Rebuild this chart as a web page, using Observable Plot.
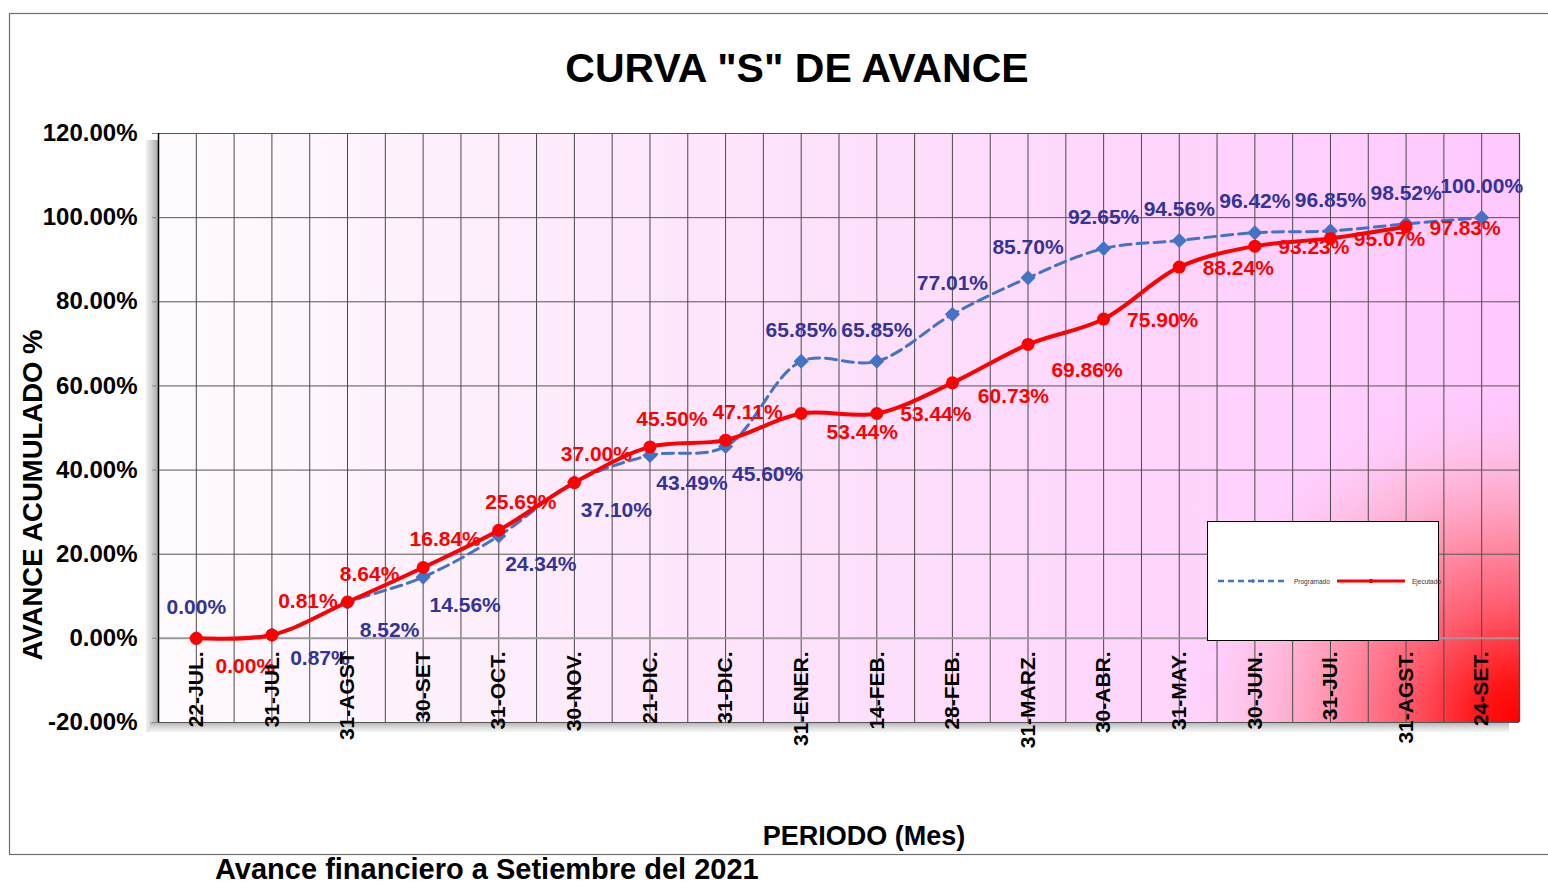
<!DOCTYPE html>
<html>
<head>
<meta charset="utf-8">
<script src="https://cdn.jsdelivr.net/npm/d3@7"></script>
<script src="https://cdn.jsdelivr.net/npm/@observablehq/plot@0.6"></script>
<style>
  body { margin: 0; background: #fff; }
  #chart { width: 1548px; height: 884px; }
</style>
</head>
<body>
<div id="chart"></div>
<script>
// ---- data ----
const periods = ["22-JUL.", "31-JUL.", "31-AGST", "30-SET", "31-OCT.", "30-NOV.", "21-DIC.", "31-DIC.", "31-ENER.", "14-FEB.", "28-FEB.", "31-MARZ.", "30-ABR.", "31-MAY.", "30-JUN.", "31-JUl.", "31-AGST.", "24-SET."];
const programado = [0.00, 0.87, 8.52, 14.56, 24.34, 37.10, 43.49, 45.60, 65.85, 65.85, 77.01, 85.70, 92.65, 94.56, 96.42, 96.85, 98.52, 100.00];
const ejecutado = [0.00, 0.81, 8.64, 16.84, 25.69, 37.00, 45.50, 47.11, 53.44, 53.44, 60.73, 69.86, 75.90, 88.24, 93.23, 95.07, 97.83];
const yTicks = [-20, 0, 20, 40, 60, 80, 100, 120];
const seriesNames = ["Programado", "Ejecutado"];
const titleText = 'CURVA "S" DE AVANCE';
const yTitle = "AVANCE ACUMULADO %";
const xTitle = "PERIODO (Mes)";
const captionText = "Avance financiero a Setiembre del 2021";

const FONT = "'Liberation Sans', Arial, Helvetica, sans-serif";
const BLUE = "#4472c4";
const BLUE_TXT = "#333399";
const RED = "#ff0000";

const progData = programado.map((v, i) => ({i, v}));
const ejecData = ejecutado.map((v, i) => ({i, v}));
const periodData = periods.map((p, i) => ({i, p}));
const pct = d => d.v.toFixed(2) + "%";

// label placement rules (Excel-like manual label offsets)
function progOffset(i) {
  return (i === 1) ? [48, 24] : (i >= 2 && i <= 7) ? [42, 28] : [0, -31];
}
function ejecOffset(i) {
  if (i === 0) return [49, 28];
  if (i === 1) return [36, -34];
  if (i <= 7) return [22, -28];
  if (i === 8) return [61, 19];
  if (i === 10) return [61, 13];
  if (i === 11) return [59, 26];
  return [59, 1];
}
function labelMarks(data, fill, offsetFn) {
  const groups = d3.group(data, d => offsetFn(d.i).join(","));
  return Array.from(groups, ([key, rows]) => {
    const [dx, dy] = key.split(",").map(Number);
    return Plot.text(rows, {x: "i", y: "v", text: pct, fill, dx, dy, fontSize: 21, fontWeight: "bold", lineAnchor: "middle"});
  });
}

// background of the plot area (gradient + red glow) and 3D shadows
function background(index, scales, values, dims) {
  const x0 = dims.marginLeft, x1 = dims.width - dims.marginRight;
  const y0 = dims.marginTop, y1 = dims.height - dims.marginBottom;
  const g = d3.create("svg:g");
  const defs = g.append("defs");
  const lg = defs.append("linearGradient").attr("id", "bgLin").attr("x1", 0).attr("x2", 1).attr("y1", 0).attr("y2", 0);
  [[0, "#fefbfe"], [0.45, "#fde3fb"], [1, "#ffc8fe"]].forEach(([o, c]) => lg.append("stop").attr("offset", o).attr("stop-color", c));
  const rg = defs.append("radialGradient").attr("id", "bgRad").attr("gradientUnits", "userSpaceOnUse")
    .attr("cx", x1).attr("cy", y1).attr("r", 335);
  [[0, "#ff0000", 1], [0.12, "#ff1414", 1], [0.34, "#ff5a6c", 1], [0.57, "#ff90aa", 0.95], [0.8, "#ffb6d6", 0.6], [1, "#ffc8fe", 0]]
    .forEach(([o, c, a]) => rg.append("stop").attr("offset", o).attr("stop-color", c).attr("stop-opacity", a));
  const sl = defs.append("linearGradient").attr("id", "shL").attr("x1", 0).attr("x2", 1).attr("y1", 0).attr("y2", 0);
  [[0, "#f2f2f2"], [0.5, "#d0d0d0"], [1, "#a8a8a8"]].forEach(([o, c]) => sl.append("stop").attr("offset", o).attr("stop-color", c));
  const sb = defs.append("linearGradient").attr("id", "shB").attr("x1", 0).attr("x2", 0).attr("y1", 0).attr("y2", 1);
  [[0, "#b0b0b0"], [0.5, "#d8d8d8"], [1, "#f6f6f6"]].forEach(([o, c]) => sb.append("stop").attr("offset", o).attr("stop-color", c));
  g.append("rect").attr("x", x0 - 12).attr("y", y0 + 7).attr("width", 12).attr("height", y1 - y0 + 3).attr("fill", "url(#shL)");
  g.append("rect").attr("x", x0 - 8).attr("y", y1).attr("width", x1 - x0 - 2).attr("height", 10).attr("fill", "url(#shB)");
  g.append("rect").attr("x", x0).attr("y", y0).attr("width", x1 - x0).attr("height", y1 - y0).attr("fill", "url(#bgLin)");
  g.append("rect").attr("x", x0).attr("y", y0).attr("width", x1 - x0).attr("height", y1 - y0).attr("fill", "url(#bgRad)");
  return g.node();
}

// titles, border, legend
function decorations(index, scales, values, dims) {
  const x0 = dims.marginLeft, x1 = dims.width - dims.marginRight;
  const y0 = dims.marginTop, y1 = dims.height - dims.marginBottom;
  const g = d3.create("svg:g").attr("font-family", FONT);
  g.append("rect").attr("x", 9.5).attr("y", 13.5).attr("width", 1560).attr("height", 841)
    .attr("fill", "none").attr("stroke", "#6e6e6e").attr("stroke-width", 1.2);
  g.append("text").attr("x", 797).attr("y", y0 - 51).attr("text-anchor", "middle")
    .attr("font-size", 41).attr("font-weight", "bold").attr("fill", "#000").text(titleText);
  g.append("text").attr("transform", `translate(42,495) rotate(-90)`).attr("text-anchor", "middle")
    .attr("font-size", 27.5).attr("font-weight", "bold").attr("fill", "#000").text(yTitle);
  g.append("text").attr("x", 864).attr("y", y1 + 123).attr("text-anchor", "middle")
    .attr("font-size", 27).attr("font-weight", "bold").attr("fill", "#000").text(xTitle);
  g.append("text").attr("x", 215).attr("y", y1 + 157).attr("text-anchor", "start")
    .attr("font-size", 29).attr("font-weight", "bold").attr("fill", "#000").text(captionText);
  // legend
  const lx = x1 - 312, ly = y1 - 201, lw = 231, lh = 119;
  const lgd = g.append("g").attr("transform", `translate(${lx},${ly})`);
  lgd.append("rect").attr("x", 0.5).attr("y", 0.5).attr("width", lw).attr("height", lh)
    .attr("fill", "#fff").attr("stroke", "#000").attr("stroke-width", 1);
  const cy = 60;
  lgd.append("line").attr("x1", 11).attr("x2", 81).attr("y1", cy).attr("y2", cy)
    .attr("stroke", BLUE).attr("stroke-width", 2.6).attr("stroke-dasharray", "6,4");
  lgd.append("path").attr("d", d3.symbol(d3.symbolDiamond2, 14)()).attr("transform", `translate(46,${cy})`).attr("fill", BLUE);
  lgd.append("text").attr("x", 87).attr("y", cy + 2.5).attr("text-anchor", "start").attr("font-weight", "normal")
    .attr("font-size", 6.5).attr("fill", "#333").text(seriesNames[0]);
  lgd.append("line").attr("x1", 130).attr("x2", 198).attr("y1", cy).attr("y2", cy)
    .attr("stroke", RED).attr("stroke-width", 3);
  lgd.append("circle").attr("cx", 164).attr("cy", cy).attr("r", 2.2).attr("fill", RED);
  lgd.append("text").attr("x", 205).attr("y", cy + 2.5).attr("text-anchor", "start").attr("font-weight", "normal")
    .attr("font-size", 6.5).attr("fill", "#333").text(seriesNames[1]);
  return g.node();
}

const n = periods.length;
const halfGrid = d3.range(0, 2 * n - 1).map(k => k / 2);

const chart = Plot.plot({
  width: 1548,
  height: 884,
  marginLeft: 158,
  marginRight: 29,
  marginTop: 133,
  marginBottom: 162,
  style: {fontFamily: FONT, fontWeight: "bold", background: "#fff", overflow: "visible"},
  x: {type: "linear", domain: [-0.5, n - 0.5], axis: null},
  y: {domain: [-20, 120], axis: null},
  marks: [
    background,
    Plot.ruleX(halfGrid, {x: d => d, stroke: "#4a4a4a", strokeWidth: 1}),
    Plot.ruleX([n - 0.5], {x: d => d, stroke: "#4a4a4a", strokeWidth: 1.2}),
    Plot.ruleY(yTicks.filter(t => t !== 0), {y: d => d, stroke: "#555", strokeWidth: 1}),
    Plot.ruleY([0], {y: d => d, stroke: "#9a9a9a", strokeWidth: 2}),
    Plot.ruleX([-0.5], {x: d => d, stroke: "#000", strokeWidth: 1.5}),
    Plot.axisY({ticks: yTicks, tickFormat: d => d.toFixed(2) + "%", tickSize: 6, tickPadding: 15,
      fontSize: 24, stroke: "#888", fill: "#000", label: null}),
    Plot.line(progData, {x: "i", y: "v", stroke: BLUE, strokeWidth: 3, strokeDasharray: "11,6", curve: "catmull-rom"}),
    Plot.dot(progData, {x: "i", y: "v", symbol: "diamond2", r: 6.8, fill: BLUE, stroke: "none"}),
    Plot.line(ejecData, {x: "i", y: "v", stroke: RED, strokeWidth: 4, curve: "catmull-rom"}),
    Plot.dot(ejecData, {x: "i", y: "v", r: 6.5, fill: RED, stroke: "none"}),
    ...labelMarks(progData, BLUE_TXT, progOffset),
    ...labelMarks(ejecData, RED, ejecOffset),
    Plot.text(periodData, {x: "i", y: () => -3.1, text: "p", rotate: -90, textAnchor: "end",
      fontSize: 21, fontWeight: "bold", fill: "#000"}),
    decorations
  ]
});
document.getElementById("chart").appendChild(chart);
</script>
</body>
</html>
